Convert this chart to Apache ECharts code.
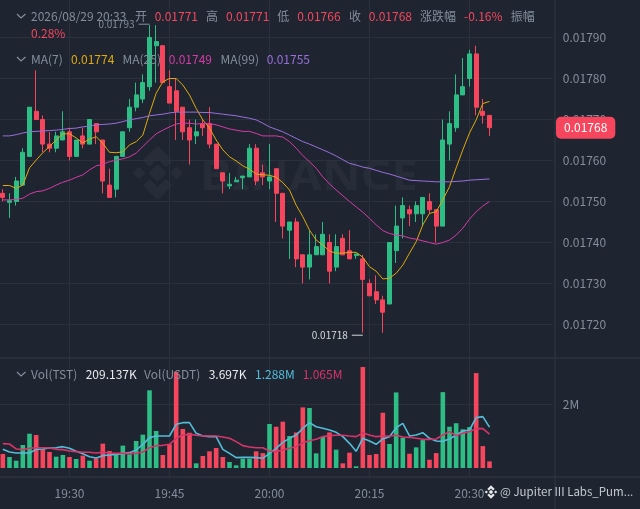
<!DOCTYPE html>
<html><head><meta charset="utf-8">
<style>html,body{margin:0;padding:0;background:#1e2530;}#c{width:640px;height:509px;}</style>
<script src="https://cdn.jsdelivr.net/npm/echarts@6/dist/echarts.min.js"></script>
</head><body><div id="c"></div>
<script>
const times=['19:20','19:21','19:22','19:23','19:24','19:25','19:26','19:27','19:28','19:29','19:30','19:31','19:32','19:33','19:34','19:35','19:36','19:37','19:38','19:39','19:40','19:41','19:42','19:43','19:44','19:45','19:46','19:47','19:48','19:49','19:50','19:51','19:52','19:53','19:54','19:55','19:56','19:57','19:58','19:59','20:00','20:01','20:02','20:03','20:04','20:05','20:06','20:07','20:08','20:09','20:10','20:11','20:12','20:13','20:14','20:15','20:16','20:17','20:18','20:19','20:20','20:21','20:22','20:23','20:24','20:25','20:26','20:27','20:28','20:29','20:30','20:31','20:32','20:33','','','','','','','','',''];
const tickTimes=['19:30','19:45','20:00','20:15','20:30'];
const opens=[0.01752,0.017498,0.0175,0.01754,0.01761,0.01772,0.0177,0.01764,0.01763,0.01765,0.01767,0.01761,0.01766,0.01764,0.01769,0.01765,0.01754,0.01753,0.01761,0.01768,0.01773,0.01775,0.01778,0.01788,0.01788,0.01778,0.01777,0.01773,0.01768,0.01766,0.01769,0.01769,0.01764,0.01757,0.017538,0.017548,0.017558,0.01756,0.01763,0.01757,0.01755,0.01758,0.01752,0.01743,0.01745,0.01737,0.01734,0.01737,0.01737,0.0174,0.01734,0.01741,0.01738,0.017368,0.01736,0.0173,0.01728,0.01726,0.01725,0.01738,0.01746,0.01748,0.01747,0.01747,0.0175,0.01748,0.01744,0.01764,0.01768,0.01776,0.0178,0.01786,0.01772,0.01771];
const closes=[0.01751,0.017502,0.01755,0.01762,0.01773,0.0177,0.01764,0.01763,0.01766,0.01767,0.01761,0.01765,0.01764,0.0177,0.01767,0.01755,0.01751,0.01761,0.01767,0.01773,0.01776,0.01779,0.0179,0.01789,0.01779,0.01774,0.01772,0.01767,0.01765,0.01767,0.01768,0.01764,0.01758,0.01755,0.017542,0.017552,0.017562,0.01763,0.01755,0.01756,0.01756,0.01752,0.01744,0.01745,0.01736,0.01734,0.01737,0.01739,0.01742,0.01733,0.01739,0.01737,0.01736,0.017372,0.01731,0.01727,0.01726,0.01723,0.0174,0.01744,0.01749,0.01747,0.01749,0.01751,0.01748,0.01744,0.01765,0.01769,0.01776,0.01778,0.01786,0.01773,0.01771,0.01768];
const lows=[0.0175,0.01746,0.01749,0.01754,0.01761,0.0177,0.01762,0.01762,0.01762,0.01765,0.0176,0.01761,0.01763,0.01764,0.01764,0.01752,0.01751,0.01751,0.01761,0.01767,0.01772,0.01774,0.01777,0.01779,0.01779,0.01774,0.01765,0.01765,0.01759,0.01764,0.01766,0.01763,0.01758,0.01752,0.01753,0.01755,0.01753,0.01756,0.01754,0.01754,0.01753,0.01745,0.01741,0.01736,0.01734,0.0173,0.01731,0.01737,0.01737,0.0173,0.01733,0.01737,0.01736,0.01736,0.01718,0.01727,0.01725,0.01718,0.01725,0.01735,0.01741,0.01744,0.01745,0.01744,0.01747,0.0174,0.01744,0.0176,0.01767,0.01776,0.01778,0.01771,0.01769,0.01766];
const highs=[0.01753,0.01752,0.01756,0.01763,0.01773,0.01782,0.01771,0.01767,0.01767,0.01772,0.01768,0.01765,0.01768,0.0177,0.01769,0.01765,0.01758,0.01761,0.01767,0.01775,0.01779,0.01781,0.01793,0.01793,0.01788,0.01782,0.0178,0.01773,0.0177,0.0177,0.0177,0.01773,0.01764,0.01757,0.01757,0.01756,0.01756,0.01764,0.01764,0.01759,0.01764,0.01758,0.01752,0.01745,0.01746,0.01737,0.01743,0.01742,0.01745,0.01742,0.01742,0.01742,0.01743,0.017372,0.01737,0.01731,0.01732,0.01727,0.0174,0.01749,0.01751,0.01749,0.0175,0.01751,0.01752,0.01748,0.0177,0.01772,0.01781,0.01785,0.01787,0.01788,0.01775,0.01771];
const ma7=[0.017539,0.017539,0.017532,0.01754,0.017582,0.017601,0.017619,0.017634,0.01765,0.017665,0.017665,0.017655,0.017643,0.017652,0.017658,0.017642,0.01762,0.017619,0.017621,0.017638,0.017646,0.017662,0.017715,0.017764,0.017792,0.0178,0.0178,0.017784,0.01776,0.017727,0.017699,0.017679,0.01765,0.017626,0.017609,0.017599,0.017587,0.017579,0.017567,0.017565,0.017564,0.017559,0.017546,0.017528,0.017491,0.017463,0.01743,0.017406,0.017394,0.017379,0.017374,0.017374,0.017376,0.017376,0.017364,0.017341,0.01733,0.017311,0.017313,0.017325,0.017345,0.017374,0.017402,0.017443,0.017471,0.017475,0.017504,0.017536,0.017582,0.017626,0.017667,0.017699,0.017739,0.017744];
const ma25=[0.017504,0.017504,0.017505,0.017508,0.017518,0.017524,0.017526,0.017532,0.01754,0.017547,0.017552,0.017559,0.017565,0.017577,0.017587,0.017591,0.017597,0.017601,0.017604,0.017609,0.017618,0.017634,0.01765,0.017665,0.017674,0.017682,0.017689,0.017691,0.017691,0.017689,0.01769,0.01769,0.017687,0.017682,0.017677,0.017674,0.017671,0.017671,0.017666,0.01766,0.01766,0.01766,0.017657,0.017646,0.01763,0.017612,0.017597,0.017581,0.01756,0.017543,0.017528,0.017514,0.0175,0.017487,0.017474,0.017459,0.017443,0.017429,0.017422,0.017418,0.017416,0.017411,0.017408,0.017404,0.0174,0.017396,0.0174,0.017406,0.017418,0.017435,0.017457,0.017475,0.017489,0.0175];
const ma99=[0.01766,0.01766,0.017663,0.017667,0.01767,0.017671,0.017672,0.017673,0.017674,0.017676,0.017678,0.017679,0.017682,0.017684,0.017687,0.017688,0.017689,0.017691,0.017695,0.017699,0.017702,0.017705,0.017709,0.017711,0.017713,0.017716,0.017718,0.017718,0.017718,0.017718,0.017717,0.017717,0.017715,0.017713,0.017711,0.017709,0.017706,0.017703,0.017699,0.017691,0.017682,0.017676,0.01767,0.017662,0.017654,0.017646,0.01764,0.017633,0.017626,0.017619,0.017611,0.017602,0.017593,0.017589,0.017584,0.017581,0.017576,0.017571,0.017567,0.017562,0.017557,0.017552,0.017551,0.01755,0.017549,0.017548,0.017548,0.017548,0.017549,0.01755,0.017552,0.017553,0.017554,0.017555];
const volM=[0.441,0.347,0.231,0.725,1.08,1.04,0.588,0.504,0.357,0.41,0.347,0.284,0.389,0.231,0.305,0.767,0.536,0.43,0.704,0.43,0.85,1.05,2.447,1.166,0.41,0.746,3.03,1.23,1.11,0.147,0.378,0.525,0.63,0.347,0.189,0.084,0.294,0.294,0.525,0.47,1.386,1.3,1.46,1.008,1.12,1.91,1.89,0.462,0.987,1.12,0.578,0.147,0.483,0.053,3.18,0.41,0.44,1.74,0.756,2.38,0.955,0.45,0.65,0.88,0.26,0.47,2.39,1.3,1.41,1.22,1.29,2.99,0.69,0.209];
const volMaA=[0.588,0.504,0.473,0.473,0.473,0.588,0.599,0.63,0.64,0.672,0.62,0.525,0.452,0.357,0.315,0.389,0.41,0.43,0.452,0.483,0.567,0.746,0.956,1.008,1.008,1.008,1.376,1.428,1.428,1.092,1.008,0.987,0.987,0.588,0.462,0.326,0.336,0.336,0.326,0.305,0.462,0.62,0.809,0.935,1.04,1.25,1.428,1.3,1.25,1.197,1.124,0.987,0.777,0.525,0.935,0.85,0.746,0.914,0.987,1.27,1.407,1.008,1.04,1.113,0.935,0.85,0.84,0.914,1.04,1.166,1.197,1.586,1.617,1.288];
const volMaB=[0.767,0.756,0.599,0.578,0.62,0.64,0.64,0.63,0.588,0.578,0.536,0.515,0.494,0.494,0.473,0.494,0.473,0.462,0.462,0.452,0.462,0.504,0.64,0.704,0.714,0.746,0.935,1.04,1.06,1.03,1.008,1.008,1.008,0.977,0.935,0.83,0.704,0.662,0.64,0.64,0.536,0.515,0.567,0.62,0.672,0.798,0.861,0.903,0.987,1.02,1.03,1.03,1.008,0.987,1.1,1.04,0.987,1.008,1.008,1.03,0.977,0.966,0.935,0.903,0.903,0.914,1.04,1.145,1.02,1.092,1.145,1.24,1.24,1.065];
const highLabel={index:22,value:0.01793,text:'0.01793'};
const lowLabel={index:54,value:0.01718,text:'0.01718'};
const lastPrice=0.01768;

const BG='#1e2530',GRID='#2a313c',TXT='#848e9c',UP='#2ebd85',DOWN='#f6465d';
const FONT='"Noto Sans CJK SC","Noto Sans",sans-serif';
const GOLD='#e0a90c',MAG='#d63aa6',PUR='#9a6fdc',CY='#55bcd8',RM='#d9346a';

const hdr=(x,y,s,c,fs)=>({type:'text',z:100,x,y,style:{text:s,fill:c,font:(fs||12)+'px '+FONT,textVerticalAlign:'middle'}});
const chev=(y)=>({type:'polyline',z:100,shape:{points:[[17,y-2],[21,y+2],[25.5,y-2]]},style:{stroke:TXT,lineWidth:1.2,fill:null}});
const hline=(y)=>({type:'line',z:5,shape:{x1:0,y1:y,x2:640,y2:y},style:{stroke:'#2c333e',lineWidth:1.4}});
const diamond=(cx,cy,r,f,z)=>({type:'polygon',z,shape:{points:[[cx,cy-r],[cx+r,cy],[cx,cy+r],[cx-r,cy]]},style:{fill:f}});
const chevron=(cx,cy,r,t,dir,f,z)=>({type:'polygon',z,shape:{points:[[cx-r,cy],[cx,cy-dir*r],[cx+r,cy],[cx+r-t,cy+dir*t],[cx,cy-dir*(r-2*t)],[cx-r+t,cy+dir*t]]},style:{fill:f}});
const logo=(cx,cy,s,f,z)=>[
 diamond(cx,cy,s*0.19,f,z),diamond(cx-s*0.39,cy,s*0.135,f,z),diamond(cx+s*0.39,cy,s*0.135,f,z),
 chevron(cx,cy-s*0.26,s*0.31,s*0.14,1,f,z),chevron(cx,cy+s*0.26,s*0.31,s*0.14,-1,f,z)];
const graphics=[
 ...logo(157.7,173,48,'#262d38',-1),
 {type:'text',z:-1,x:200,y:178,scaleX:1.135,style:{text:'BINANCE',fill:'#262d38',font:'bold 42px "Noto Sans",sans-serif',textVerticalAlign:'middle'}},
 {type:'line',z:5,shape:{x1:555,y1:0,x2:555,y2:509},style:{stroke:'#2c333e',lineWidth:1.4}},
 hline(358),hline(477),
 chev(16),hdr(31,16.5,'2026/08/29 20:33',TXT),hdr(135,16.5,'开',TXT),hdr(154.7,16.5,'0.01771',DOWN),
 hdr(206,16.5,'高',TXT),hdr(226,16.5,'0.01771',DOWN),hdr(277.3,16.5,'低',TXT),hdr(297.3,16.5,'0.01766',DOWN),
 hdr(349,16.5,'收',TXT),hdr(368.7,16.5,'0.01768',DOWN),hdr(420,16.5,'涨跌幅',TXT),hdr(464,16.5,'-0.16%',DOWN),
 hdr(510.7,16.5,'振幅',TXT),hdr(31,33,'0.28%',DOWN),
 chev(59),hdr(31,59,'MA(7)',TXT),hdr(71,59,'0.01774',GOLD),hdr(122.5,59,'MA(25)',TXT),hdr(168.7,59,'0.01749',MAG),
 hdr(220.5,59,'MA(99)',TXT),hdr(266.7,59,'0.01755',PUR),
 chev(374),hdr(31,374.5,'Vol(TST)',TXT),hdr(85.7,374.5,'209.137K','#eaecef'),hdr(144,374.5,'Vol(USDT)',TXT),
 hdr(208.7,374.5,'3.697K','#eaecef'),hdr(255,374.5,'1.288M',CY),hdr(302.7,374.5,'1.065M',RM),
 ...logo(491,492,12,'#e6e8ea',100),
 hdr(500,492,'@ Jupiter III Labs_Pum...','#c4c9d0',11.5)
];
const isTick=(i)=>tickTimes.includes(times[i]);
const xBase=(gridIndex,show)=>({type:'category',gridIndex,data:times,boundaryGap:true,
 axisLine:{show:false},
 axisTick:{show:!!show,alignWithLabel:true,interval:isTick,length:9,lineStyle:{color:GRID}},
 axisLabel:{show:!!show,interval:isTick,margin:19,color:TXT,fontSize:12,fontFamily:FONT},
 splitLine:{show:true,alignWithLabel:true,interval:isTick,lineStyle:{color:GRID,width:1}}});
const maLine=(name,data,color)=>({type:'line',name,data,symbol:'none',xAxisIndex:0,yAxisIndex:0,lineStyle:{color,width:1},itemStyle:{color},z:4,animation:false,silent:true});
const volLine=(name,data,color)=>({type:'line',name,data,symbol:'none',xAxisIndex:1,yAxisIndex:1,lineStyle:{color,width:1.6},itemStyle:{color},z:4,animation:false,silent:true});
const extremeLabel=(p,textColor,width,dy)=>({coord:[p.index,p.value],symbol:'circle',symbolSize:0,
 label:{show:true,position:'left',distance:0,offset:[0,dy],formatter:'{t|'+p.text+'}{d|}',rich:{t:{color:textColor,fontSize:10,fontFamily:FONT,padding:[0,4,0,0]},d:{width,height:1,backgroundColor:textColor}}}});
const lastTag={coord:[times.length-1,lastPrice],symbol:'circle',symbolSize:0,
 label:{show:true,position:'right',distance:6.5,formatter:lastPrice.toFixed(5),color:'#fff',fontSize:12,fontFamily:FONT,backgroundColor:DOWN,borderRadius:5,padding:[5,8,5,8]}};

const chart=echarts.init(document.getElementById('c'),null,{renderer:'canvas',width:640,height:509});
chart.setOption({
 animation:false,backgroundColor:BG,
 grid:[{left:-0.5,top:-3.5,width:553.33,height:369,outerBoundsMode:'none'},{left:-0.5,top:341,width:553.33,height:127,outerBoundsMode:'none'}],
 xAxis:[xBase(0,false),xBase(1,true)],
 yAxis:[
  {type:'value',gridIndex:0,position:'right',min:0.0171,max:0.018,interval:0.0001,scale:true,
   axisLine:{show:false},axisTick:{show:false},
   axisLabel:{margin:10,color:TXT,fontSize:12,fontFamily:FONT,formatter:v=>(v<0.01715||v>0.01795)?'':v.toFixed(5)},
   splitLine:{show:true,showMinLine:false,showMaxLine:false,lineStyle:{color:GRID}}},
  {type:'value',gridIndex:1,position:'right',min:0,max:4,interval:2,
   axisLine:{show:false},axisTick:{show:false},
   axisLabel:{margin:10,color:TXT,fontSize:12,fontFamily:FONT,formatter:v=>v===2?'2M':''},
   splitLine:{show:true,showMinLine:false,showMaxLine:false,lineStyle:{color:GRID}}}
 ],
 graphic:{elements:graphics},
 series:[
  {type:'candlestick',xAxisIndex:0,yAxisIndex:0,barWidth:4.8,z:3,clip:false,
   data:opens.map((o,i)=>[o,closes[i],lows[i],highs[i]]),
   itemStyle:{color:UP,color0:DOWN,borderColor:UP,borderColor0:DOWN,borderWidth:1},
   markPoint:{animation:false,silent:true,data:[extremeLabel(highLabel,'#848e9c',11,-1),extremeLabel(lowLabel,'#d5d8dd',11,2.5),lastTag]}},
  maLine('MA7',ma7,GOLD),maLine('MA25',ma25,MAG),maLine('MA99',ma99,PUR),
  {type:'bar',xAxisIndex:1,yAxisIndex:1,barWidth:4.6,z:3,
   data:volM.map((v,i)=>({value:v,itemStyle:{color:closes[i]>opens[i]?UP:DOWN}}))},
  volLine('VolMA1',volMaA,CY),volLine('VolMA2',volMaB,RM)
 ]
});
</script></body></html>
